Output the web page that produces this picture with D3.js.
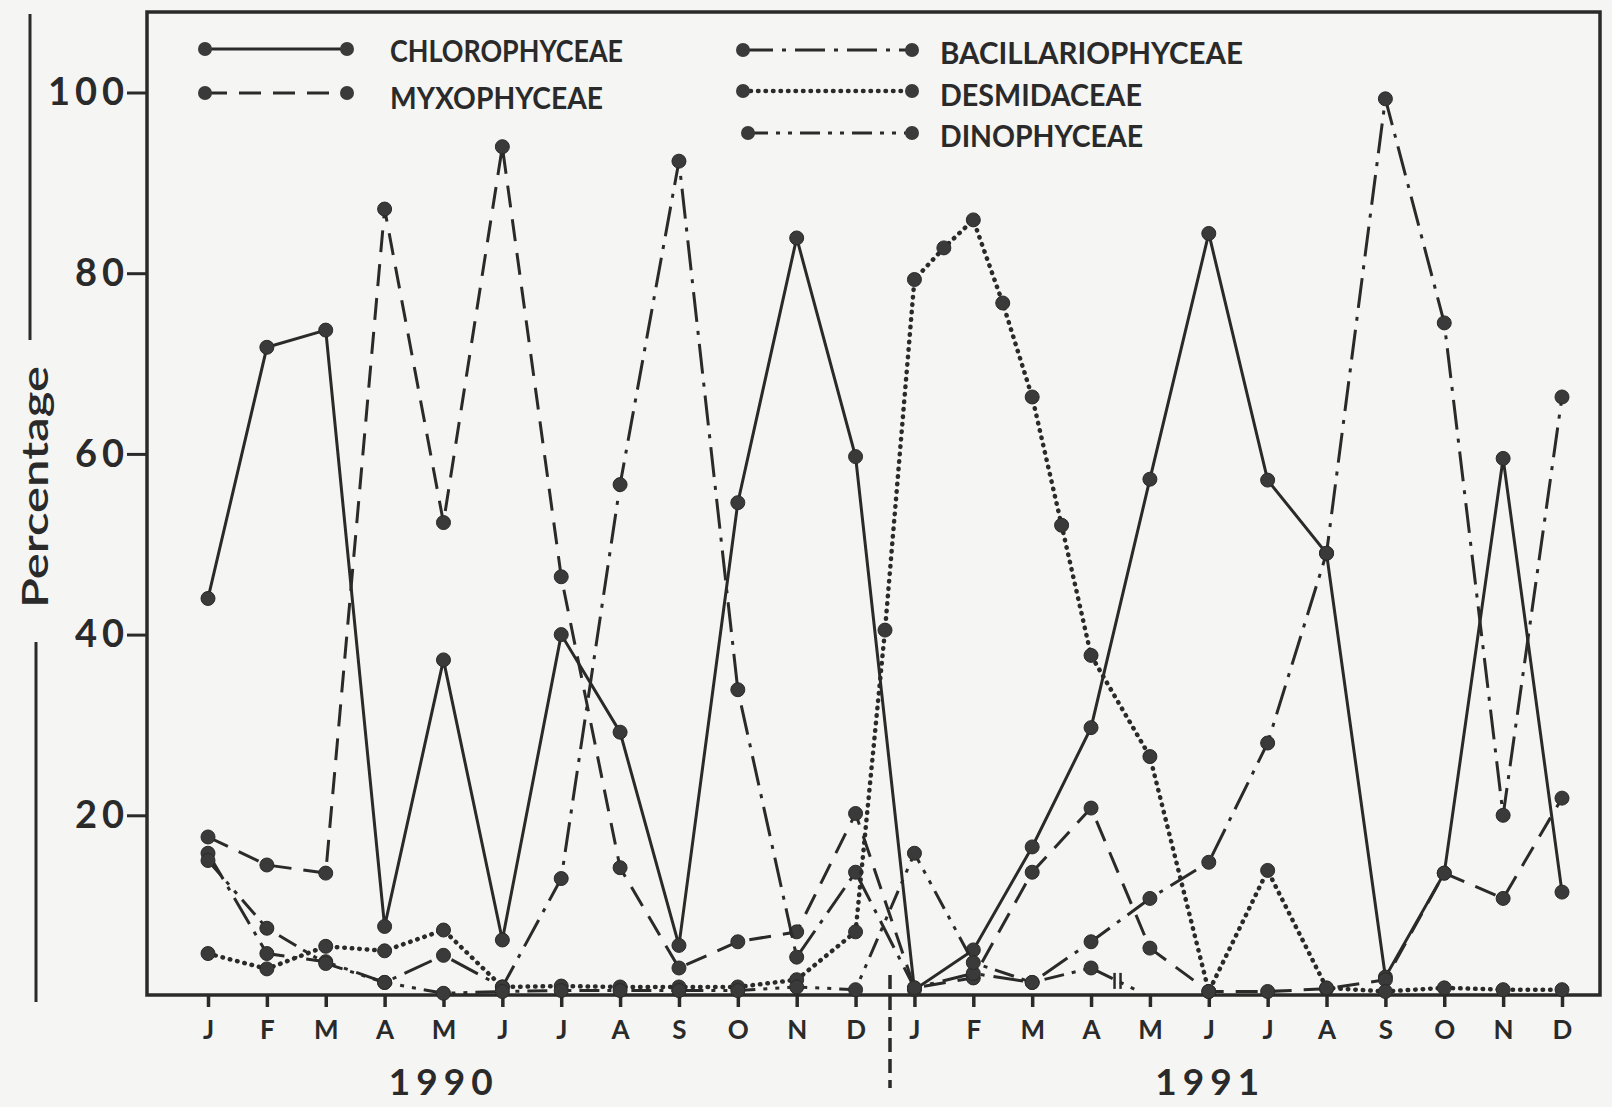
<!DOCTYPE html>
<html>
<head>
<meta charset="utf-8">
<script src="https://cdn.jsdelivr.net/npm/d3@7/dist/d3.min.js"></script>
<style>
  html, body { margin: 0; padding: 0; background: #f5f5f3; }
  #chart { width: 1612px; height: 1107px; }
</style>
</head>
<body>
<div id="chart"></div>
<script>
// month labels along the x axis (Jan 1990 .. Dec 1991)
const months = ["J","F","M","A","M","J","J","A","S","O","N","D",
                "J","F","M","A","M","J","J","A","S","O","N","D"];
const years = ["1990", "1991"];
const yTicks = [20, 40, 60, 80, 100];

// percentage values, one per month
const chlorophyceae = [44.0, 71.8, 73.7, 7.7, 37.2, 6.2, 40.0, 29.2, 5.6, 54.6, 83.9, 59.7,
                       0.7, 5.1, 16.5, 29.7, 57.2, 84.4, 57.1, 49.0, 2.1, 13.6, 59.5, 11.5];
const myxophyceae = [17.6, 14.5, 13.6, 87.1, 52.4, 94.0, 46.4, 14.2, 3.1, 6.0, 7.1, 20.2,
                     0.9, 2.0, 13.7, 20.8, 5.3, 0.5, 0.5, 0.8, 1.8, 13.6, 10.8, 21.9];
const bacillariophyceae = [15.8, 4.7, 3.8, 1.5, 4.5, 1.0, 13.0, 56.6, 92.4, 33.9, 4.3, 13.7,
                           0.9, 2.5, 1.5, 6.0, 10.8, 14.8, 28.0, 49.0, 99.3, 74.5, 20.0, 66.3];
// desmids were sampled at half-month steps in early 1991
const desmidaceaeMonth = [0, 1, 2, 3, 4, 5, 6, 7, 8, 9, 10, 11, 11.5, 12, 12.5, 13, 13.5, 14, 14.5,
                          15, 16, 17, 18, 19, 20, 21, 22, 23];
const desmidaceae = [4.7, 3.0, 5.5, 5.0, 7.3, 1.0, 1.1, 1.0, 1.0, 1.0, 1.8, 7.1, 40.5, 79.3, 82.8,
                     85.9, 76.7, 66.3, 52.1, 37.7, 26.5, 0.5, 13.9, 0.9, 0.5, 0.9, 0.7, 0.7];
// dinophyceae stop after April 1991 (break mark on the line)
const dinophyceaeMonth = [0, 1, 2, 3, 4, 5, 6, 7, 8, 9, 10, 11, 12, 13, 14, 15, 15.85];
const dinophyceae = [15.0, 7.5, 3.6, 1.5, 0.3, 0.5, 0.6, 0.6, 0.6, 0.6, 1.0, 0.7,
                     15.8, 3.7, 1.5, 3.1, 0.4];

const series = [
  { name: "CHLOROPHYCEAE", x: d3.range(24), y: chlorophyceae, dash: null },
  { name: "MYXOPHYCEAE", x: d3.range(24), y: myxophyceae, dash: "22,12" },
  { name: "BACILLARIOPHYCEAE", x: d3.range(24), y: bacillariophyceae, dash: "30,9,4,9" },
  { name: "DESMIDACEAE", x: desmidaceaeMonth, y: desmidaceae, dash: "0.5,7", dotted: true },
  { name: "DINOPHYCEAE", x: dinophyceaeMonth, y: dinophyceae, dash: "20,8,4,8,4,8", openEnd: true }
];

function makeChart(containerSelector) {
    const ink = "#2a2a2a";
    const font = "Lato, 'DejaVu Sans', sans-serif";
    const width = 1612, height = 1107;
    const frame = { left: 147, top: 12, right: 1600, bottom: 995 };

    d3.select(containerSelector).html("");
    const svg = d3.select(containerSelector)
        .append("svg")
        .attr("width", width)
        .attr("height", height)
        .attr("viewBox", `0 0 ${width} ${height}`);

    svg.append("rect").attr("width", width).attr("height", height).attr("fill", "#f5f5f3");

    // scales
    const x = d3.scaleLinear().domain([0, 23]).range([208, 1562]);
    const y = d3.scaleLinear().domain([0, 100]).range([996, 92.5]);

    // frame
    svg.append("rect")
        .attr("x", frame.left).attr("y", frame.top)
        .attr("width", frame.right - frame.left)
        .attr("height", frame.bottom - frame.top)
        .attr("fill", "none")
        .attr("stroke", ink)
        .attr("stroke-width", 3.5);

    // y axis
    const yAxis = svg.append("g")
        .attr("transform", `translate(${frame.left},0)`)
        .call(d3.axisLeft(y).tickValues(yTicks).tickSize(20).tickPadding(-2));
    yAxis.select(".domain").remove();
    yAxis.selectAll("line").attr("stroke", ink).attr("stroke-width", 3);
    yAxis.selectAll("text")
        .attr("fill", ink)
        .style("font-family", font)
        .style("font-size", "38px")
        .style("font-weight", 700)
        .style("letter-spacing", "5px");

    // x axis
    const xAxis = svg.append("g")
        .attr("transform", `translate(0,${frame.bottom})`)
        .call(d3.axisBottom(x).tickValues(d3.range(24)).tickFormat(i => months[i])
            .tickSize(12).tickPadding(14));
    xAxis.select(".domain").remove();
    xAxis.selectAll("line").attr("stroke", ink).attr("stroke-width", 3.5);
    xAxis.selectAll("text")
        .attr("fill", ink)
        .style("font-family", font)
        .style("font-size", "26px")
        .style("font-weight", 700);

    // year labels, centred under each half
    years.forEach((yr, i) => {
        svg.append("text")
            .attr("x", (x(i * 12) + x(i * 12 + 11)) / 2 + (i === 0 ? -88 : -28))
            .attr("y", 1095)
            .attr("text-anchor", "middle")
            .attr("fill", ink)
            .style("font-family", font)
            .style("font-size", "37px")
            .style("font-weight", 700)
            .style("letter-spacing", "6px")
            .text(yr);
    });

    // dashed divider between the years
    svg.append("line")
        .attr("x1", (x(11) + x(12)) / 2 + 5).attr("x2", (x(11) + x(12)) / 2 + 5)
        .attr("y1", 975).attr("y2", 1088)
        .attr("stroke", ink)
        .attr("stroke-width", 3.5)
        .attr("stroke-dasharray", "14,7");

    // y title with its rules
    svg.append("text")
        .attr("transform", "translate(48,487) rotate(-90)")
        .attr("text-anchor", "middle")
        .attr("fill", ink)
        .attr("textLength", 242)
        .attr("lengthAdjust", "spacingAndGlyphs")
        .style("font-family", font)
        .style("font-size", "36px")
        .style("font-weight", 600)
        .text("Percentage");
    svg.append("line").attr("x1", 30).attr("x2", 30).attr("y1", 14).attr("y2", 340)
        .attr("stroke", ink).attr("stroke-width", 3);
    svg.append("line").attr("x1", 36).attr("x2", 36).attr("y1", 642).attr("y2", 1002)
        .attr("stroke", ink).attr("stroke-width", 3);

    // series lines
    const plot = svg.append("g");
    series.forEach(s => {
        const pts = s.x.map((m, i) => [m, s.y[i]]);
        plot.append("path")
            .datum(pts)
            .attr("fill", "none")
            .attr("stroke", ink)
            .attr("stroke-width", s.dotted ? 4.5 : 3)
            .attr("stroke-linecap", s.dotted ? "round" : "butt")
            .attr("stroke-dasharray", s.dash)
            .attr("d", d3.line().x(d => x(d[0])).y(d => y(d[1])));

        plot.selectAll(null)
            .data(s.openEnd ? pts.slice(0, -1) : pts)
            .enter()
            .append("circle")
            .attr("cx", d => x(d[0]))
            .attr("cy", d => y(d[1]))
            .attr("r", 7)
            .attr("fill", "#3a3a3a")
            .attr("stroke", ink)
            .attr("stroke-width", 1);
    });

    // break mark on the dinophyceae line
    const dn = dinophyceae.length;
    const bx = 15.45;
    const by = dinophyceae[dn - 2] + (dinophyceae[dn - 1] - dinophyceae[dn - 2]) *
        (bx - dinophyceaeMonth[dn - 2]) / (dinophyceaeMonth[dn - 1] - dinophyceaeMonth[dn - 2]);
    [-3, 3].forEach(off => {
        plot.append("line")
            .attr("x1", x(bx) + off).attr("x2", x(bx) + off)
            .attr("y1", y(by) - 8).attr("y2", y(by) + 8)
            .attr("stroke", ink).attr("stroke-width", 2.5);
    });

    // legend: two columns
    const legendPos = [
        { x1: 205, x2: 347, ly: 49, tx: 390, ty: 62, w: 233 },
        { x1: 205, x2: 347, ly: 93, tx: 390, ty: 109, w: 213 },
        { x1: 743, x2: 912, ly: 50, tx: 940, ty: 64, w: 303 },
        { x1: 743, x2: 912, ly: 91, tx: 940, ty: 106, w: 202 },
        { x1: 748, x2: 912, ly: 133, tx: 940, ty: 147, w: 203 }
    ];
    const legend = svg.append("g");
    series.forEach((s, i) => {
        const p = legendPos[i];
        legend.append("line")
            .attr("x1", p.x1).attr("x2", p.x2)
            .attr("y1", p.ly).attr("y2", p.ly)
            .attr("stroke", ink)
            .attr("stroke-width", s.dotted ? 4.5 : 3)
            .attr("stroke-linecap", s.dotted ? "round" : "butt")
            .attr("stroke-dasharray", s.dash);
        [p.x1, p.x2].forEach(cx => {
            legend.append("circle")
                .attr("cx", cx).attr("cy", p.ly).attr("r", 7)
                .attr("fill", "#3a3a3a");
        });
        legend.append("text")
            .attr("x", p.tx).attr("y", p.ty)
            .attr("fill", ink)
            .attr("textLength", p.w)
            .attr("lengthAdjust", "spacingAndGlyphs")
            .style("font-family", font)
            .style("font-size", "30px")
            .style("font-weight", 700)
            .text(s.name);
    });

    return svg.node();
}

makeChart("#chart");
</script>
</body>
</html>
